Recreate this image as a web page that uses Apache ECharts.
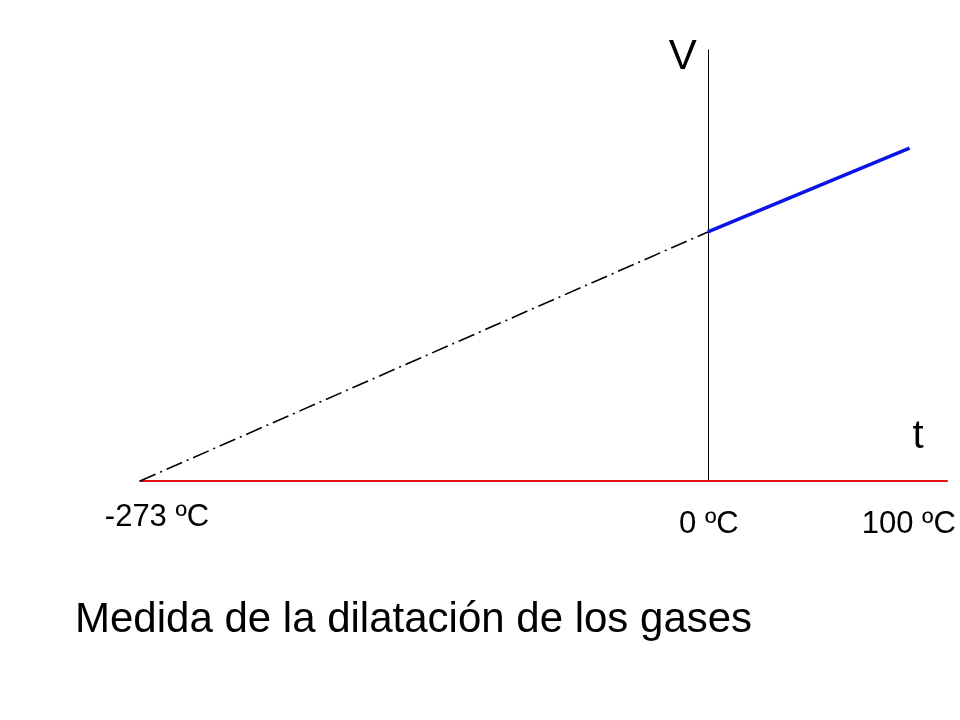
<!DOCTYPE html>
<html>
<head>
<meta charset="utf-8">
<script src="https://cdn.jsdelivr.net/npm/echarts@6/dist/echarts.min.js"></script>
<style>html,body{margin:0;padding:0;background:#fff}#c{width:960px;height:720px}</style>
</head>
<body>
<div id="c"></div>
<script>
// Data
var extrapolated = [[-273, 0], [0, 273]];      // dash-dot extrapolation to absolute zero
var measured = [[0, 273], [97, 365]];          // measured gas volume (blue)
var tickValues = [-273, 0, 100];
var tickLabels = ['-273 ºC', '0 ºC', '100 ºC'];
var titleText = 'Medida de la dilatación de los gases';
var xName = 't';
var yName = 'V';

var FONT = '"Liberation Sans", Arial, sans-serif';
var chart = echarts.init(document.getElementById('c'));
var labelOffsets = [[17, 36], [1, 43], [-7, 43]];

chart.setOption({
  backgroundColor: '#ffffff',
  animation: false,
  title: {
    text: titleText, left: 70, top: 594,
    textStyle: {fontFamily: FONT, fontSize: 42, fontWeight: 'normal', color: '#000'}
  },
  grid: {left: 140, right: 13, top: 50, bottom: 239},
  xAxis: {
    type: 'value', min: -273, max: 115,
    axisLine: {show: true, onZero: true, lineStyle: {color: '#e01010', width: 2}},
    axisTick: {show: false}, axisLabel: {show: false}, splitLine: {show: false}
  },
  yAxis: {
    type: 'value', min: 0, max: 472.5,
    axisLine: {show: true, onZero: true, lineStyle: {color: '#000', width: 1}},
    axisTick: {show: false}, axisLabel: {show: false}, splitLine: {show: false}
  },
  series: [
    {
      type: 'line', data: extrapolated, symbol: 'none',
      lineStyle: {color: '#000', width: 1.6, type: [17, 5, 2, 5]}
    },
    {
      type: 'line', data: measured, symbol: 'none',
      lineStyle: {color: '#0a14e6', width: 3.5}
    },
    {
      type: 'scatter', symbolSize: 0, silent: true,
      itemStyle: {opacity: 1, color: '#000'},
      data: tickValues.map(function (v, i) {
        return {value: [v, 0], label: {offset: labelOffsets[i]}};
      }),
      label: {
        show: true, position: 'inside', opacity: 1,
        formatter: function (p) { return tickLabels[p.dataIndex]; },
        fontFamily: FONT, fontSize: 31, color: '#000', fontWeight: 'normal',
        textBorderWidth: 0
      }
    }
  ]
});

var pY = chart.convertToPixel({xAxisIndex: 0, yAxisIndex: 0}, [0, 472.5]);
var pX = chart.convertToPixel({xAxisIndex: 0, yAxisIndex: 0}, [115, 0]);
chart.setOption({
  graphic: [
    {type: 'text', x: pY[0] - 25, y: pY[1] + 7,
     style: {text: yName, fontFamily: FONT, fontSize: 42, fill: '#000', align: 'center', verticalAlign: 'middle'}},
    {type: 'text', x: pX[0] - 29, y: pX[1] - 44,
     style: {text: xName, fontFamily: FONT, fontSize: 40, fill: '#000', align: 'center', verticalAlign: 'middle'}}
  ]
});
</script>
</body>
</html>
